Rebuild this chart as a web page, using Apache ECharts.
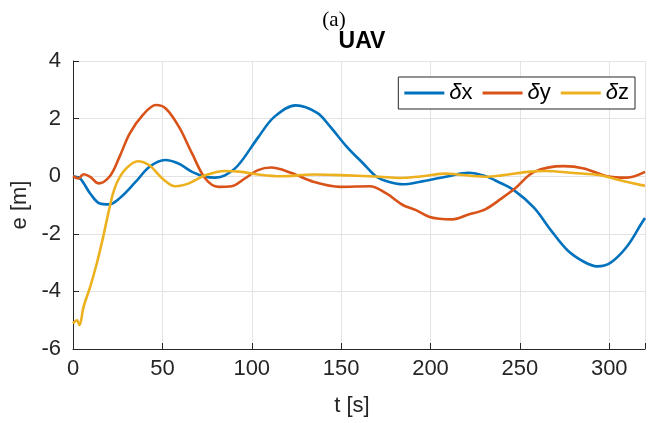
<!DOCTYPE html>
<html>
<head>
<meta charset="utf-8">
<script src="https://cdn.jsdelivr.net/npm/echarts@6/dist/echarts.min.js"></script>
<style>
  html, body { margin: 0; padding: 0; background: #fff; }
  #chart { width: 648px; height: 423px; }
</style>
</head>
<body>
<div id="chart"></div>
<script>
// --- data ---
const xTicks = [0, 50, 100, 150, 200, 250, 300]
const yTicks = [-6, -4, -2, 0, 2, 4]

const tX = [0, 4, 9.6, 15, 20, 26, 35, 42.7, 51.5, 59, 66.6, 74, 79.5, 85, 92.4, 103.5, 112.6, 124.6, 136.6, 144, 153.2, 162.4, 169.8, 177, 184.5, 193.7, 208.5, 221.3, 230, 238, 247, 258, 267.4, 276.6, 285.8, 293.2, 300.6, 309.8, 318, 320]
const dX = [0, -0.08, -0.6, -0.95, -0.98, -0.77, -0.2, 0.32, 0.56, 0.44, 0.15, -0.02, -0.05, 0.03, 0.38, 1.34, 2.06, 2.46, 2.2, 1.71, 1.02, 0.44, -0.02, -0.2, -0.28, -0.2, -0.02, 0.12, 0.02, -0.2, -0.5, -1.1, -1.88, -2.57, -2.97, -3.13, -3.01, -2.45, -1.64, -1.45]

const tY = [0, 3, 5.9, 9.6, 14.2, 20.6, 26, 31.7, 39, 46.4, 51.9, 59.3, 66.6, 74, 81.4, 88.7, 96.1, 103.5, 110.8, 121.9, 134.8, 149.5, 166, 175.3, 184.5, 191.9, 199.2, 205, 212.2, 221.3, 230.6, 239.8, 247.2, 258, 274.6, 285.8, 298.7, 309.8, 320]
const dY = [0, -0.08, 0.07, -0.02, -0.25, 0, 0.67, 1.48, 2.12, 2.47, 2.35, 1.71, 0.79, -0.08, -0.37, -0.35, -0.08, 0.21, 0.3, 0.12, -0.2, -0.37, -0.35, -0.6, -1.0, -1.18, -1.41, -1.48, -1.5, -1.33, -1.15, -0.77, -0.43, 0.15, 0.35, 0.27, 0, -0.05, 0.15]

const tZ = [0, 2.2, 3.6, 5.9, 9.6, 13.3, 16.9, 19.7, 22.4, 25.2, 29.8, 36.2, 42.7, 50, 57.4, 64.8, 74, 85, 94.3, 103.5, 116.3, 134.8, 153.2, 171.6, 182.7, 195.6, 208.5, 214, 230.6, 239.8, 254.5, 263.7, 280.3, 295, 306, 318, 320]
const dZ = [-5.11, -5.0, -5.17, -4.54, -3.84, -3.03, -2.1, -1.3, -0.6, -0.14, 0.27, 0.52, 0.38, -0.08, -0.35, -0.25, 0.03, 0.18, 0.15, 0.06, 0, 0.06, 0.03, -0.02, -0.06, 0, 0.09, 0.07, -0.02, 0.03, 0.15, 0.18, 0.11, 0.03, -0.14, -0.31, -0.33]

const seriesNames = ['δx', 'δy', 'δz']
const seriesColors = ['#0072BD', '#D95319', '#EDB120']

const zip = (ts, vs) => ts.map((t, i) => [t, vs[i]])
const seriesData = [zip(tX, dX), zip(tY, dY), zip(tZ, dZ)]

const axisColor = '#262626'
const gridColor = '#e3e3e3'
const sans = 'Liberation Sans, Arial, Helvetica, sans-serif'

const chart = echarts.init(document.getElementById('chart'))

chart.setOption({
  animation: false,
  backgroundColor: '#fff',
  title: [
    {
      text: '(a)',
      left: 329,
      top: 5,
      textAlign: 'center',
      textStyle: { fontFamily: 'Liberation Serif, Times New Roman, serif', fontSize: 21, fontWeight: 'normal', color: '#000' }
    },
    {
      text: 'UAV',
      left: 357,
      top: 25,
      textAlign: 'center',
      textStyle: { fontFamily: sans, fontSize: 23, fontWeight: 'bold', color: '#000' }
    }
  ],
  legend: {
    data: seriesNames,
    right: 13,
    top: 77,
    icon: 'rect',
    itemWidth: 40,
    itemHeight: 3,
    itemGap: 10,
    padding: [5, 6, 5, 6],
    borderColor: axisColor,
    borderWidth: 1,
    backgroundColor: '#fff',
    formatter: (name) => '{i|δ}' + name.slice(1),
    textStyle: {
      fontFamily: sans,
      fontSize: 22,
      color: '#000',
      rich: {
        i: { fontFamily: sans, fontSize: 22, fontStyle: 'italic', color: '#000' }
      }
    }
  },
  grid: {
    left: 73,
    top: 61,
    right: -4,
    bottom: 74
  },
  xAxis: {
    type: 'value',
    min: 0,
    max: 320,
    interval: 50,
    name: 't [s]',
    nameLocation: 'middle',
    nameGap: 46,
    nameTextStyle: { fontFamily: sans, fontSize: 22, color: axisColor, padding: [0, 14, 0, 0] },
    axisLine: { show: true, onZero: false, lineStyle: { color: axisColor, width: 1 } },
    axisTick: { show: true, inside: true, length: 6, lineStyle: { color: axisColor } },
    axisLabel: {
      fontFamily: sans,
      fontSize: 22,
      color: axisColor,
      margin: 9,
      formatter: (v) => (xTicks.includes(v) ? String(v) : '')
    },
    splitLine: { show: true, lineStyle: { color: gridColor, width: 1 } }
  },
  yAxis: {
    type: 'value',
    min: -6,
    max: 4,
    interval: 2,
    name: 'e [m]',
    nameLocation: 'middle',
    nameGap: 40,
    nameTextStyle: { fontFamily: sans, fontSize: 22, color: axisColor },
    axisLine: { show: true, onZero: false, lineStyle: { color: axisColor, width: 1 } },
    axisTick: { show: true, inside: true, length: 6, lineStyle: { color: axisColor } },
    axisLabel: {
      fontFamily: sans,
      fontSize: 22,
      color: axisColor,
      margin: 12,
      formatter: (v) => (yTicks.includes(v) ? String(v) : '')
    },
    splitLine: { show: true, lineStyle: { color: gridColor, width: 1 } }
  },
  series: seriesNames.map((name, i) => ({
    name: name,
    type: 'line',
    data: seriesData[i],
    smooth: 0.35,
    showSymbol: false,
    symbol: 'none',
    clip: true,
    color: seriesColors[i],
    lineStyle: { color: seriesColors[i], width: 2.6 }
  }))
})
</script>
</body>
</html>
